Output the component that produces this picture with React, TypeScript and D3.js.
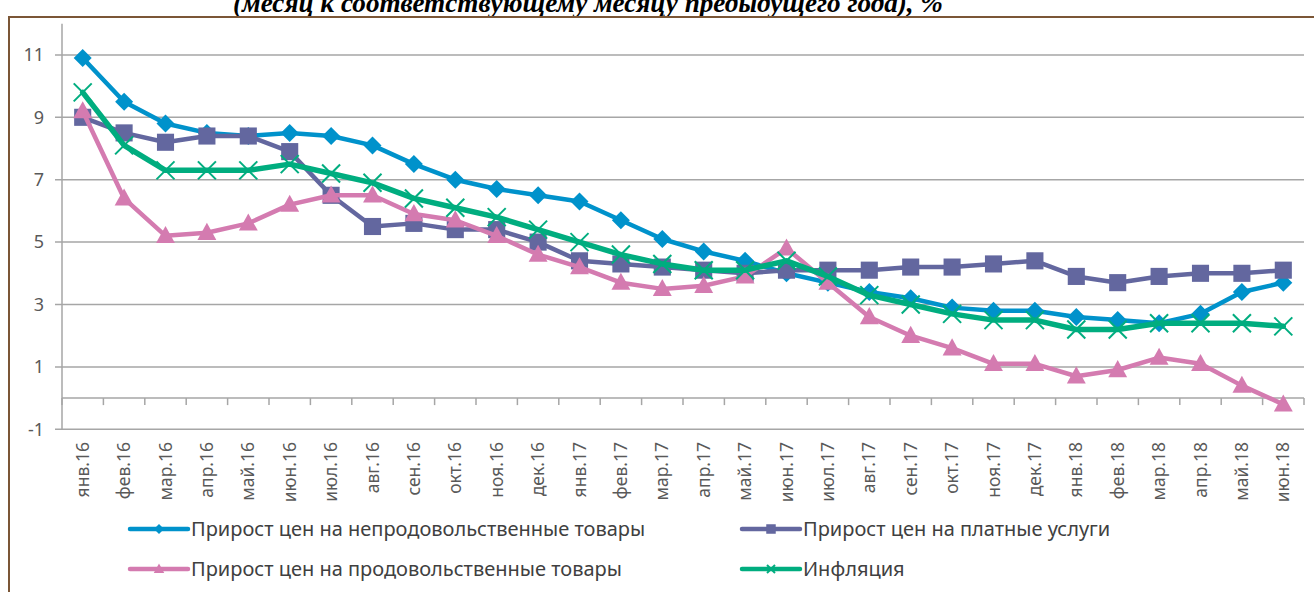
import React from 'react';
import * as d3 from 'd3';

const months = ['янв.16','фев.16','мар.16','апр.16','май.16','июн.16','июл.16','авг.16','сен.16','окт.16','ноя.16','дек.16','янв.17','фев.17','мар.17','апр.17','май.17','июн.17','июл.17','авг.17','сен.17','окт.17','ноя.17','дек.17','янв.18','фев.18','мар.18','апр.18','май.18','июн.18'];

const nonFood = [10.9,9.5,8.8,8.5,8.4,8.5,8.4,8.1,7.5,7.0,6.7,6.5,6.3,5.7,5.1,4.7,4.4,4.0,3.7,3.4,3.2,2.9,2.8,2.8,2.6,2.5,2.4,2.7,3.4,3.7];
const services = [9.0,8.5,8.2,8.4,8.4,7.9,6.5,5.5,5.6,5.4,5.4,5.0,4.4,4.3,4.2,4.1,4.0,4.1,4.1,4.1,4.2,4.2,4.3,4.4,3.9,3.7,3.9,4.0,4.0,4.1];
const food = [9.2,6.4,5.2,5.3,5.6,6.2,6.5,6.5,5.9,5.7,5.2,4.6,4.2,3.7,3.5,3.6,3.9,4.8,3.7,2.6,2.0,1.6,1.1,1.1,0.7,0.9,1.3,1.1,0.4,-0.2];
const inflation = [9.8,8.1,7.3,7.3,7.3,7.5,7.2,6.9,6.4,6.1,5.8,5.4,5.0,4.6,4.3,4.1,4.1,4.4,3.9,3.3,3.0,2.7,2.5,2.5,2.2,2.2,2.4,2.4,2.4,2.3];

const yTicks = [-1, 1, 3, 5, 7, 9, 11];
const titleText = '(месяц к соответствующему месяцу предыдущего года), %';

const seriesNames = [
  'Прирост цен на непродовольственные товары',
  'Прирост цен на платные услуги',
  'Прирост цен на продовольственные товары',
  'Инфляция',
];

type Marker = 'diamond' | 'square' | 'triangle' | 'x';

const series: { name: string; values: number[]; color: string; marker: Marker; width: number }[] = [
  { name: seriesNames[0], values: nonFood, color: '#0092cb', marker: 'diamond', width: 4.5 },
  { name: seriesNames[1], values: services, color: '#63679f', marker: 'square', width: 4.5 },
  { name: seriesNames[2], values: food, color: '#d47bb0', marker: 'triangle', width: 4.5 },
  { name: seriesNames[3], values: inflation, color: '#00ad7f', marker: 'x', width: 5.5 },
];

const FONT = '"Noto Sans", "Open Sans", sans-serif';

function MarkerShape({ type, x, y, color, s }: { type: Marker; x: number; y: number; color: string; s: number }) {
  if (type === 'diamond') {
    return <path d={`M${x},${y - s} L${x + s},${y} L${x},${y + s} L${x - s},${y} Z`} fill={color} />;
  }
  if (type === 'square') {
    const h = s * 0.95;
    return <rect x={x - h} y={y - h} width={2 * h} height={2 * h} fill={color} />;
  }
  if (type === 'triangle') {
    return <path d={`M${x},${y - s * 1.1} L${x + s * 1.05},${y + s * 0.8} L${x - s * 1.05},${y + s * 0.8} Z`} fill={color} />;
  }
  return (
    <g stroke={color} strokeWidth={2}>
      <line x1={x - s} y1={y - s} x2={x + s} y2={y + s} />
      <line x1={x - s} y1={y + s} x2={x + s} y2={y - s} />
    </g>
  );
}

export default function App() {
  const W = 1314;
  const H = 592;
  const x = d3.scaleBand<string>().domain(months).range([62, 1304]).padding(0);
  const y = d3.scaleLinear().domain([-1, 12]).range([429.3, 23.7]);
  const cx = (m: string) => (x(m) as number) + x.bandwidth() / 2;
  const line = d3
    .line<number>()
    .x((_, i) => cx(months[i]))
    .y((d) => y(d));

  const gridColor = '#a6a6a6';
  const tickEdges = d3.range(months.length + 1).map((k) => 62 + k * x.bandwidth());

  const legendItems = [
    { s: series[0], lx: 130, ly: 529 },
    { s: series[1], lx: 742, ly: 529 },
    { s: series[2], lx: 130, ly: 569 },
    { s: series[3], lx: 742, ly: 569 },
  ];

  return (
    <svg width={W} height={H} style={{ position: 'absolute', left: 0, top: 0, background: '#fff' }}>
      <rect x={0} y={0} width={W} height={H} fill="#fff" />
      {/* title (cut off at the top edge) */}
      <text
        x={588}
        y={12}
        textAnchor="middle"
        fontFamily='"Liberation Serif", "Times New Roman", serif'
        fontWeight="bold"
        fontStyle="italic"
        fontSize={28}
        fill="#000"
        textLength={710}
        lengthAdjust="spacingAndGlyphs"
      >
        {titleText}
      </text>
      {/* frame */}
      <rect x={10} y={18} width={W - 10} height={H - 18} fill="#fff" />
      <line x1={8} y1={17} x2={W} y2={17} stroke="#7b5636" strokeWidth={2} />
      <line x1={9} y1={16} x2={9} y2={H} stroke="#7b5636" strokeWidth={2} />

      {/* gridlines */}
      {yTicks.map((t) => (
        <g key={t}>
          <line x1={55} x2={1304} y1={y(t)} y2={y(t)} stroke={gridColor} strokeWidth={1.5} />
          <text
            x={44}
            y={y(t)}
            dy="0.35em"
            textAnchor="end"
            fontFamily={FONT}
            fontSize={18}
            fill="#595959"
          >
            {t}
          </text>
        </g>
      ))}
      {/* y axis */}
      <line x1={62} x2={62} y1={y(12)} y2={y(-1)} stroke={gridColor} strokeWidth={1.5} />
      {/* x axis at 0 */}
      <line x1={62} x2={1304} y1={y(0)} y2={y(0)} stroke={gridColor} strokeWidth={1.5} />
      {tickEdges.map((e, i) => (
        <line key={i} x1={e} x2={e} y1={y(0)} y2={y(0) + 7} stroke={gridColor} strokeWidth={1.5} />
      ))}
      {months.map((m) => (
        <text
          key={m}
          transform={`translate(${cx(m) + 6},442) rotate(-90)`}
          textAnchor="end"
          fontFamily={FONT}
          fontSize={17.5}
          fill="#595959"
        >
          {m}
        </text>
      ))}

      {/* series */}
      {series.map((s) => (
        <g key={s.name}>
          <path d={line(s.values) || ''} fill="none" stroke={s.color} strokeWidth={s.width} strokeLinejoin="round" strokeLinecap="round" />
          {s.values.map((v, i) => (
            <MarkerShape key={i} type={s.marker} x={cx(months[i])} y={y(v)} color={s.color} s={9} />
          ))}
        </g>
      ))}

      {/* legend */}
      {legendItems.map(({ s, lx, ly }) => (
        <g key={s.name}>
          <line x1={lx} x2={lx + 58} y1={ly} y2={ly} stroke={s.color} strokeWidth={4.5} strokeLinecap="round" />
          <MarkerShape type={s.marker} x={lx + 29} y={ly} color={s.color} s={s.marker === 'x' ? 4 : 5} />
          <text x={lx + 61} y={ly} dy="0.35em" fontFamily={FONT} fontSize={20} fill="#404040">
            {s.name}
          </text>
        </g>
      ))}
    </svg>
  );
}
